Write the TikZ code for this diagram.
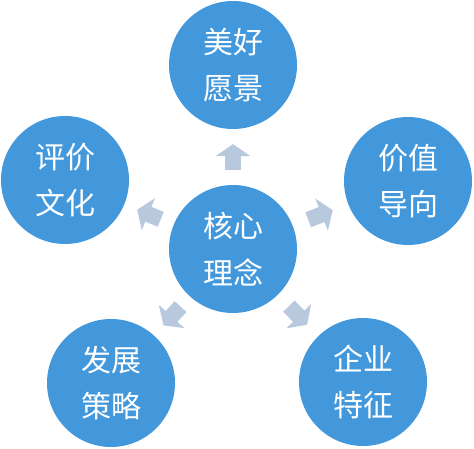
\documentclass[tikz,border=0pt]{standalone}
\usepackage{fontspec}
\newfontfamily\cjk{Noto Sans CJK SC}
\usepackage{xcolor}
\usetikzlibrary{arrows.meta,calc}

\definecolor{ballblue}{HTML}{4398DB}
\definecolor{arrowgrey}{HTML}{B8C9DE}

\tikzset{
  ball/.style={circle,fill=ballblue,minimum size=128pt,inner sep=0pt,
    text=white,align=center,font=\cjk\fontsize{30}{46.5}\selectfont},
  flowarrow/.style={draw=arrowgrey,line width=16pt,
    -{Triangle[width=34pt,length=12pt]}}
}

\begin{document}
\begin{tikzpicture}[x=1pt,y=-1pt]
  \useasboundingbox (0,0) rectangle (474,449);
  % centre and outer circles
  \node[ball] (core)     at (233,249) {核心\\理念};
  \node[ball] (vision)   at (233,65)  {美好\\愿景};
  \node[ball] (value)    at (408,181) {价值\\导向};
  \node[ball] (feature)  at (363,382) {企业\\特征};
  \node[ball] (strategy) at (111,383) {发展\\策略};
  \node[ball] (culture)  at (65,180)  {评价\\文化};
  % arrows out of the centre
  \foreach \outer in {vision,value,feature,strategy,culture}
    \draw[flowarrow] ($(core)!0.43!(\outer)$) -- ($(core)!0.57!(\outer)$);
\end{tikzpicture}
\end{document}
